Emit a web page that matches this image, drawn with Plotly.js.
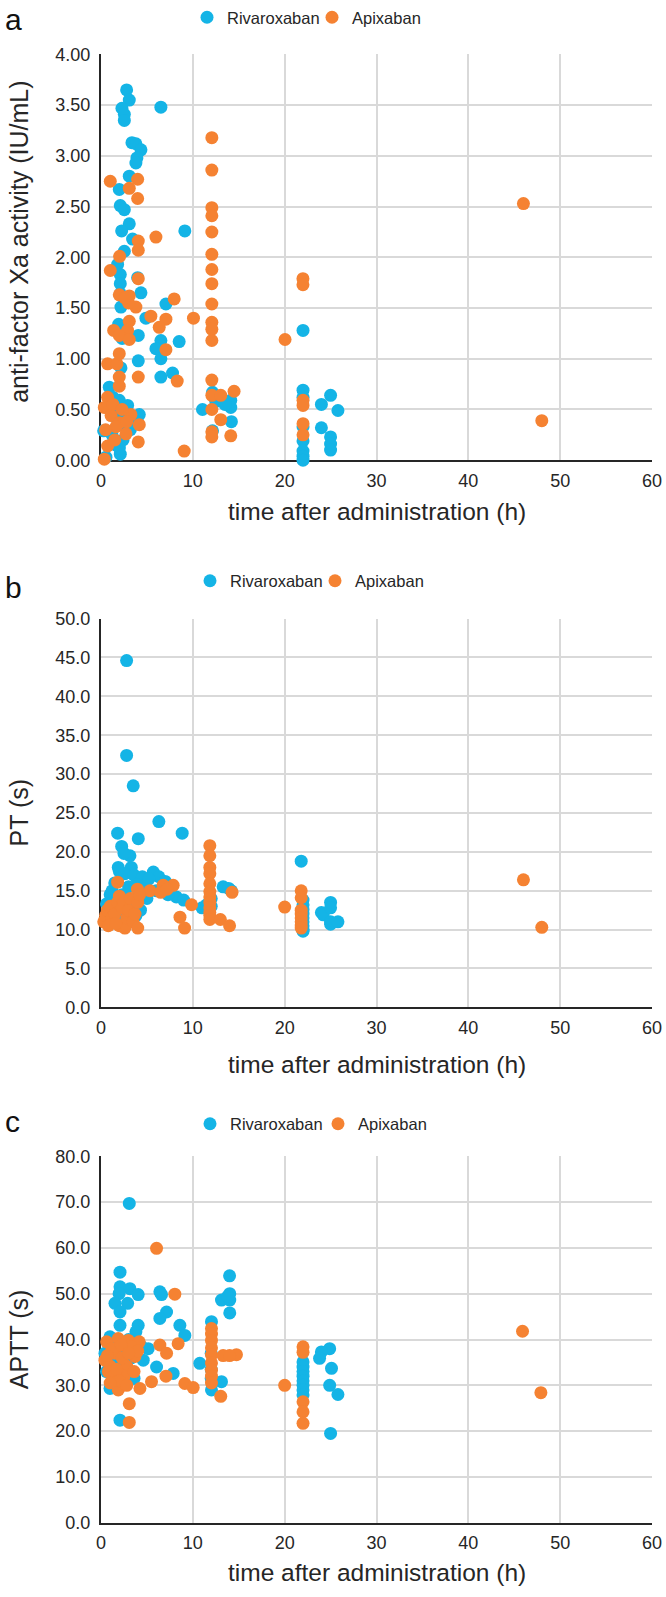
<!DOCTYPE html>
<html><head><meta charset="utf-8">
<script src="https://cdn.plot.ly/plotly-3.0.1.min.js"></script>
<style>html,body{margin:0;padding:0;background:#fff;}#chart{width:666px;height:1597px;}</style>
</head><body><div id="chart"></div>
<script>
// ---------- Panel a: anti-factor Xa activity (IU/mL) ----------
const rivaA_t = [2.79,3.08,2.28,2.54,2.54,6.52,3.37,3.8,4.35,3.91,3.8,3.08,1.99,2.1,2.54,3.08,2.25,3.44,2.54,1.81,2.1,3.99,9.13,2.1,2.1,4.35,2.17,7.07,4.89,1.92,4.06,6.52,8.51,5.98,6.52,4.06,2.17,6.52,7.79,0.9,1.99,2.9,4.17,11.05,12.14,14.13,14.13,14.2,12.14,0.54,2.1,0.29,22,22,22,25,24,25.8,24,25,25,25,22,22,22,22,22,1.5,1.8,2.3,2.7,3.2,1.2,1.6,2.0,2.4,1.0,3.5,1.3,2.6,12.5,13.5,2.3,2.5];
const rivaA_v = [3.65,3.55,3.47,3.41,3.35,3.48,3.13,3.12,3.06,2.98,2.93,2.80,2.67,2.51,2.47,2.33,2.26,2.18,2.06,1.93,1.83,1.80,2.26,1.74,1.64,1.65,1.51,1.54,1.40,1.34,1.23,1.18,1.17,1.10,1.00,0.98,0.91,0.82,0.86,0.72,0.59,0.54,0.45,0.50,0.67,0.59,0.52,0.38,0.29,0.03,0.06,0.29,1.28,0.69,0.62,0.64,0.55,0.49,0.32,0.23,0.16,0.10,0.19,0.09,0.04,0.00,0.33,0.50,0.40,0.35,0.45,0.30,0.25,0.15,0.12,0.20,0.55,0.42,0.62,0.50,0.58,0.55,1.20,1.28];
const apixA_t = [1.01,3.99,3.08,3.99,12.07,12.07,12.07,12.07,12.07,12.07,12.07,5.98,4.06,4.06,2.03,1.01,4.06,1.99,3.08,3.8,5.43,7.97,10.07,7.07,3.08,6.34,1.38,2.9,1.99,3.08,7.07,12.07,12.07,12.07,12.07,12.07,12.07,12.07,12.07,12.07,12.07,13.04,14.49,13.04,14.13,9.06,0.72,1.74,1.99,4.06,1.99,1.99,0.72,0.36,1.1,1.99,3.26,4.17,2.72,4.06,0.72,0.36,1.63,46.0,21.99,21.99,20.04,48.0,22,22,22,22,8.3,0.5,1.3,2.3,2.8,1.5,3.0,2.6];
const apixA_v = [2.75,2.77,2.68,2.58,3.18,2.86,2.49,2.41,2.25,2.03,1.88,2.20,2.16,2.07,2.01,1.87,1.79,1.63,1.62,1.51,1.42,1.59,1.40,1.39,1.37,1.31,1.28,1.28,1.23,1.19,1.09,1.74,1.54,1.36,1.29,1.18,0.79,0.64,0.50,0.28,0.23,0.64,0.68,0.40,0.24,0.09,0.95,0.95,1.05,0.82,0.82,0.73,0.62,0.52,0.44,0.37,0.45,0.35,0.26,0.18,0.14,0.01,0.33,2.53,1.79,1.73,1.19,0.39,0.59,0.54,0.36,0.25,0.78,0.30,0.55,0.50,0.38,0.20,1.55,1.60];

// ---------- Panel b: PT (s) ----------
const rivaB_t = [2.79,2.79,3.51,6.3,8.84,1.81,4.06,2.25,3.15,2.5,1.88,3.3,2.0,2.6,3.6,4.5,5.7,6.3,5.2,7.0,8.2,21.8,13.3,13.9,14.2,12.0,12.0,11.5,11.0,1.5,1.2,1.0,0.6,1.7,2.3,3.0,3.9,4.5,1.4,2.0,2.5,3.4,5.0,6.0,7.3,9.0,22,22,22,22,22,22,22,22,22,24,24.2,25,25,25,25,25.8,2.2,1.0,0.8,3.8,4.3];
const rivaB_v = [44.6,32.4,28.5,23.9,22.4,22.4,21.7,20.7,19.5,19.8,18.0,18.0,17.5,17.2,17.0,16.8,17.4,16.8,16.5,16.2,14.2,18.8,15.5,15.3,15.0,14.0,13.0,13.2,12.8,16.0,15.0,14.5,13.3,13.8,14.5,15.5,15.8,15.3,12.5,12.0,11.2,13.5,14.0,15.0,14.5,13.8,13.8,13.2,12.6,12.0,11.5,11.0,10.5,10.0,9.8,12.2,11.9,13.5,12.8,11.0,10.7,11.0,10.5,11.2,12.0,11.8,12.5];
const apixB_t = [1.81,11.85,11.85,11.85,11.85,11.85,11.85,11.85,11.85,11.85,11.85,11.85,11.85,7.86,6.77,5.33,3.97,14.27,21.8,21.8,21.8,21.8,21.8,21.8,21.8,21.8,9.86,13.0,14.0,8.6,9.1,20.0,46.0,48.0,0.3,0.5,0.7,1.0,1.2,1.5,1.8,2.0,2.0,2.3,2.5,2.6,2.8,3.0,3.2,3.5,3.7,4.0,4.0,4.2,0.8,1.6,6.5,7.2];
const apixB_v = [16.1,20.8,19.5,18.0,17.2,15.9,14.9,14.2,13.5,12.8,12.2,11.8,11.3,15.7,15.7,15.0,15.2,14.8,15.0,14.1,12.5,12.0,11.5,11.0,10.6,10.2,13.2,11.3,10.5,11.6,10.2,12.9,16.4,10.3,11.0,11.8,12.5,13.0,11.5,12.0,13.5,14.3,10.5,12.8,13.5,10.2,11.5,12.5,14.0,11.0,12.0,10.2,13.5,14.5,10.5,10.8,14.8,15.2];

// ---------- Panel c: APTT (s) ----------
const rivaC_t = [3.08,2.07,14.0,2.07,3.15,1.97,4.05,1.52,2.9,2.07,6.41,6.59,7.14,6.41,8.59,9.13,4.05,2.07,3.8,0.98,5.14,6.05,7.86,10.76,12.03,13.12,14.02,14.02,14.02,13.8,13.12,12.03,2.07,0.98,0.43,24.9,24.0,23.8,25.1,24.9,25.8,25,22,22,22,22,22,22,22,22,1.5,2.5,3.3,1.8,2.6,3.6,4.6,1.2,2.2,3.0,4.4,0.6,1.0,12.0,12.0,12.0];
const rivaC_v = [69.7,54.7,53.9,51.5,51.1,50.0,49.8,47.9,47.9,46.0,50.4,49.8,46.0,44.6,43.1,40.9,43.1,43.1,41.7,40.6,38.0,34.0,32.6,34.8,43.9,48.6,50.0,48.6,45.8,49.4,30.8,29.0,22.4,29.3,37.0,38.0,37.3,35.9,33.7,30.0,28.0,19.5,35.1,34.0,33.0,32.0,31.0,30.0,29.0,27.9,38.5,37.5,36.0,35.0,33.5,31.5,35.5,31.0,30.0,40.0,38.5,33.0,36.0,37.0,33.5,31.5];
const apixC_t = [6.05,8.04,0.62,1.88,2.97,4.16,0.43,0.98,0.8,1.34,1.88,2.79,3.7,4.24,3.08,3.08,5.5,6.41,7.14,8.4,7.07,9.13,10.04,12.03,12.03,12.03,12.03,12.03,12.03,12.03,12.03,12.03,13.04,13.3,14.75,14.0,20.0,22.0,22.0,22,22,22,45.9,47.9,1.5,2.3,1.2,2.5,3.3,1.7,2.0,2.8,3.6,4.0,0.7,1.0,2.2,3.0];
const apixC_v = [59.9,49.9,39.5,40.2,39.8,39.5,35.5,34.2,33.0,31.9,29.0,34.2,36.3,29.3,26.0,21.9,30.8,38.8,37.0,39.1,32.0,30.4,29.5,42.4,41.2,39.8,38.2,36.6,34.9,33.3,32.0,30.5,27.6,36.5,36.7,36.5,30.0,38.4,37.2,26.4,24.2,21.7,41.8,28.4,37.0,36.0,38.0,32.0,38.5,33.5,31.0,30.0,33.0,37.5,36.5,30.5,38.8,37.0];

// ---------- labels ----------
const seriesNames = ['Rivaroxaban','Apixaban'];
const panelLetters = ['a','b','c'];
const yTitles = ['anti-factor Xa activity (IU/mL)','PT (s)','APTT (s)'];
const xTitle = 'time after administration (h)';

// ---------- styling ----------
const W = 666, H = 1597;
const BLUE = '#14B4E6', ORANGE = '#F58232';
const TXT = '#262626';
const FONT = 'Liberation Sans, Arial, sans-serif';
const fx = p => p / W, fy = p => 1 - p / H;

// plot rectangles in pixels (top, bottom)
const xL = 101, xR = 652;
const rows = [
  {top: 53.5, bot: 459.5, ymax: 4, dtick: 0.5, fmt: '.2f', legY: 16.5, legX: 187, legW: 80, letY: 19, xtY: 511, ytY: 241},
  {top: 618, bot: 1007, ymax: 50, dtick: 5, fmt: '.1f', legY: 581, legX: 190, legW: 80, letY: 587, xtY: 1064, ytY: 812},
  {top: 1156, bot: 1522.7, ymax: 80, dtick: 10, fmt: '.1f', legY: 1124, legX: 190, legW: 83, letY: 1121, xtY: 1572, ytY: 1339}
];

const data = [];
const dataSets = [[rivaA_t,rivaA_v,apixA_t,apixA_v],[rivaB_t,rivaB_v,apixB_t,apixB_v],[rivaC_t,rivaC_v,apixC_t,apixC_v]];
dataSets.forEach((d, i) => {
  const sfx = i === 0 ? '' : String(i + 1);
  const leg = i === 0 ? 'legend' : 'legend' + (i + 1);
  data.push({type:'scatter', mode:'markers', name: seriesNames[0], x: d[0], y: d[1],
    xaxis:'x'+sfx, yaxis:'y'+sfx, legend: leg, legendwidth: rows[i].legW, cliponaxis:false,
    marker:{color:BLUE, size:13, line:{width:0}}});
  data.push({type:'scatter', mode:'markers', name: seriesNames[1], x: d[2], y: d[3],
    xaxis:'x'+sfx, yaxis:'y'+sfx, legend: leg, legendwidth: 90, cliponaxis:false,
    marker:{color:ORANGE, size:13, line:{width:0}}});
});

const layout = {
  width: W, height: H, margin:{l:0,r:0,t:0,b:0},
  paper_bgcolor:'#fff', plot_bgcolor:'#fff',
  font:{family: FONT, color: TXT, size: 18},
  showlegend: true,
  annotations: []
};

rows.forEach((r, i) => {
  const sfx = i === 0 ? '' : String(i + 1);
  layout['xaxis'+sfx] = {
    domain:[fx(xL), fx(xR)], anchor:'y'+sfx, range:[0,60], tick0:0, dtick:10,
    showgrid:true, gridcolor:'#d9d9d9', gridwidth:2, zeroline:false,
    showline:true, linecolor:TXT, linewidth:2, ticks:'outside', ticklen:3, tickcolor:'rgba(0,0,0,0)',
    tickfont:{size:18, color:TXT, family:FONT}, layer:'below traces', fixedrange:true, automargin:false
  };
  layout['yaxis'+sfx] = {
    domain:[fy(r.bot), fy(r.top)], anchor:'x'+sfx, range:[0, r.ymax], tick0:0, dtick:r.dtick, tickformat:r.fmt,
    showgrid:true, gridcolor:'#d9d9d9', gridwidth:2, zeroline:false,
    showline:true, linecolor:TXT, linewidth:2, ticks:'outside', ticklen:5, tickcolor:'rgba(0,0,0,0)',
    tickfont:{size:18, color:TXT, family:FONT}, layer:'below traces', fixedrange:true, automargin:false
  };
  const legKey = i === 0 ? 'legend' : 'legend' + (i + 1);
  layout[legKey] = {
    orientation:'h', x: fx(r.legX), xanchor:'left', y: fy(r.legY), yanchor:'middle',
    font:{size:16.5, color:TXT, family:FONT}, bgcolor:'rgba(0,0,0,0)', itemclick:false, itemdoubleclick:false,
    tracegroupgap:0
  };
  layout.annotations.push({
    text: panelLetters[i], xref:'paper', yref:'paper', x: fx(3), y: fy(r.letY),
    xanchor:'left', yanchor:'middle', showarrow:false, font:{size:30, color:'#111', family:FONT}
  });
  layout.annotations.push({
    text: xTitle, xref:'paper', yref:'paper', x: fx((xL + xR) / 2), y: fy(r.xtY),
    xanchor:'center', yanchor:'middle', showarrow:false, font:{size:24.5, color:TXT, family:FONT}
  });
  layout.annotations.push({
    text: yTitles[i], xref:'paper', yref:'paper', x: fx(19), y: fy(r.ytY),
    xanchor:'center', yanchor:'middle', textangle:-90, showarrow:false, font:{size:25, color:TXT, family:FONT}
  });
});

Plotly.newPlot('chart', data, layout, {displayModeBar:false, staticPlot:true});
</script></body></html>
